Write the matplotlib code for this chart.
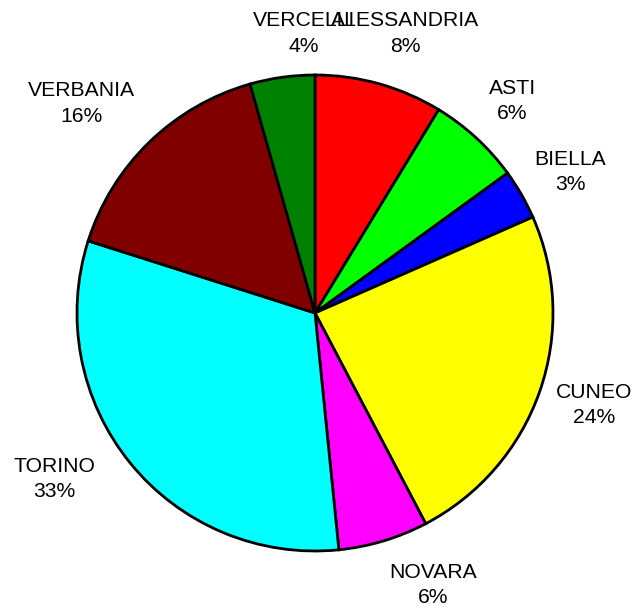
import matplotlib
matplotlib.use('Agg')
import numpy as np
import matplotlib.pyplot as plt

# provinces and their share
provinces = ['ALESSANDRIA', 'ASTI', 'BIELLA', 'CUNEO', 'NOVARA', 'TORINO', 'VERBANIA', 'VERCELLI']
shares = [8.7, 6.3, 3.4, 23.9, 6.1, 31.5, 15.7, 4.4]
pct_labels = ['8%', '6%', '3%', '24%', '6%', '33%', '16%', '4%']
colors = ['#ff0000', '#00ff00', '#0000ff', '#ffff00', '#ff00ff', '#00ffff', '#800000', '#008000']

# label layout: distance from centre (in radii) and angle nudge (deg, clockwise)
label_dist = [1.234, 1.216, 1.225, 1.236, 1.247, 1.298, 1.318, 1.175]
label_nudge = [2.2, 0.3, 1.0, -1.1, -6.8, 6.5, -4.0, 5.7]

plt.rcParams['font.family'] = ['Liberation Sans', 'DejaVu Sans']

W, H = 634, 613
cx, cy, R = 315, 313, 238   # pie centre and radius in pixels

fig = plt.figure(figsize=(W / 100, H / 100), dpi=100)
ax = fig.add_axes([0, 0, 1, 1])

wedges, _ = ax.pie(shares, colors=colors, startangle=90, counterclock=False,
                   radius=1, wedgeprops=dict(edgecolor='black', linewidth=2.0))

for w, name, pct, d, nudge in zip(wedges, provinces, pct_labels, label_dist, label_nudge):
    mid = np.deg2rad((w.theta1 + w.theta2) / 2 - nudge)
    ax.text(d * np.cos(mid), d * np.sin(mid), name + '\n' + pct,
            ha='center', va='center', fontsize=15.2, linespacing=1.42)

ax.set_xlim(-cx / R, (W - cx) / R)
ax.set_ylim(-(H - cy) / R, cy / R)
ax.set_aspect('equal')
ax.axis('off')

plt.savefig('out.png', dpi=100)
